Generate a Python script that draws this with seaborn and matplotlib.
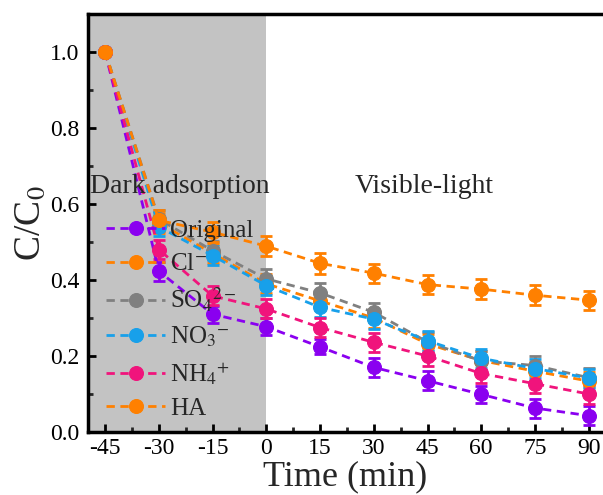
import numpy as np
import pandas as pd
import seaborn as sns
import matplotlib
matplotlib.use("Agg")
import matplotlib.pyplot as plt
from matplotlib.ticker import MultipleLocator

# ---- data ----
time = [-45, -30, -15, 0, 15, 30, 45, 60, 75, 90]
labels = ["Original", r"Cl$^{-}$", r"SO$_4$$^{2-}$", r"NO$_3$$^{-}$", r"NH$_4$$^{+}$", "HA"]
original = [1.0, 0.423, 0.31, 0.277, 0.224, 0.17, 0.135, 0.099, 0.063, 0.043]
cl = [1.0, 0.55, 0.47, 0.39, 0.345, 0.30, 0.232, 0.188, 0.160, 0.134]
so4 = [1.0, 0.56, 0.477, 0.403, 0.366, 0.315, 0.237, 0.187, 0.175, 0.143]
no3 = [1.0, 0.54, 0.464, 0.385, 0.328, 0.297, 0.240, 0.194, 0.167, 0.142]
nh4 = [1.0, 0.48, 0.358, 0.324, 0.275, 0.236, 0.200, 0.154, 0.127, 0.100]
ha = [1.0, 0.557, 0.526, 0.489, 0.444, 0.418, 0.388, 0.376, 0.360, 0.347]
err_original = [0, 0.025, 0.022, 0.022, 0.02, 0.025, 0.025, 0.022, 0.025, 0.025]
err_cl = [0, 0.025, 0.025, 0.025, 0.025, 0.025, 0.025, 0.025, 0.025, 0.025]
err_so4 = [0, 0.025, 0.025, 0.025, 0.025, 0.025, 0.025, 0.025, 0.025, 0.025]
err_no3 = [0, 0.025, 0.025, 0.025, 0.025, 0.025, 0.025, 0.025, 0.025, 0.025]
err_nh4 = [0, 0.025, 0.025, 0.025, 0.025, 0.025, 0.025, 0.025, 0.025, 0.025]
err_ha = [0, 0.027, 0.027, 0.027, 0.027, 0.025, 0.025, 0.027, 0.027, 0.025]
colors = ["#8a00f0", "#ff8000", "#808080", "#18a0ea", "#f0147c", "#ff8000"]

series = [original, cl, so4, no3, nh4, ha]
errs = [err_original, err_cl, err_so4, err_no3, err_nh4, err_ha]

rows = []
for lab, vals, e in zip(labels, series, errs):
    for t, v, ee in zip(time, vals, e):
        rows.append({"time": t, "c": v, "err": ee, "series": lab})
df = pd.DataFrame(rows)

sns.set_theme(style="ticks")
plt.rcParams["font.family"] = ["Liberation Serif", "DejaVu Serif"]
plt.rcParams["mathtext.fontset"] = "stix"

fig = plt.figure(figsize=(6.03, 4.95), dpi=100)
ax = fig.add_axes([88 / 603, 63 / 495, 1 - 88 / 603, (432 - 14) / 495])

ax.axvspan(-60, 0, color="#c3c3c3", zorder=0, lw=0)

for lab, col in zip(labels, colors):
    sub = df[df["series"] == lab]
    ax.errorbar(sub["time"], sub["c"], yerr=sub["err"], fmt="none", ecolor=col,
                elinewidth=2, capsize=4.5, capthick=2, zorder=2)
    sns.lineplot(data=sub, x="time", y="c", ax=ax, color=col, label=lab,
                 linestyle=(0, (3, 2)), linewidth=2, marker="o", markersize=10,
                 markeredgecolor=col, markeredgewidth=0.8, zorder=3,
                 errorbar=None, sort=False)

ax.set_xlim(-49.8, 94)
ax.set_ylim(0, 1.1)
ax.set_xticks(time)
ax.set_xticklabels([str(t) for t in time])
ax.set_yticks([0.0, 0.2, 0.4, 0.6, 0.8, 1.0])
ax.set_yticklabels(["0.0", "0.2", "0.4", "0.6", "0.8", "1.0"])
ax.xaxis.set_minor_locator(MultipleLocator(7.5))
ax.yaxis.set_minor_locator(MultipleLocator(0.1))
ax.tick_params(axis="both", which="major", direction="in", length=6, width=2,
               labelsize=17, colors="black", top=False, right=False)
ax.tick_params(axis="both", which="minor", direction="in", length=3.5, width=2,
               top=False, right=False)
ax.tick_params(axis="x", pad=4)
ax.tick_params(axis="y", pad=6)
for s in ["left", "bottom", "top"]:
    ax.spines[s].set_linewidth(2.5)
    ax.spines[s].set_color("black")
ax.spines["right"].set_visible(False)

ax.set_xlabel("Time (min)", fontsize=26, labelpad=1)
ax.set_ylabel("C/C$_0$", fontsize=27, labelpad=2)

ax.text(-49.3, 0.646, "Dark adsorption", fontsize=20, va="center", ha="left")
ax.text(44, 0.646, "Visible-light", fontsize=20, va="center", ha="center")

leg = ax.legend(loc="upper left", bbox_to_anchor=(0.035, 0.508), frameon=False,
                fontsize=18, handlelength=2.36, handletextpad=0.2,
                labelspacing=0.43, borderaxespad=0, borderpad=0)

fig.savefig("out.png", dpi=100)
